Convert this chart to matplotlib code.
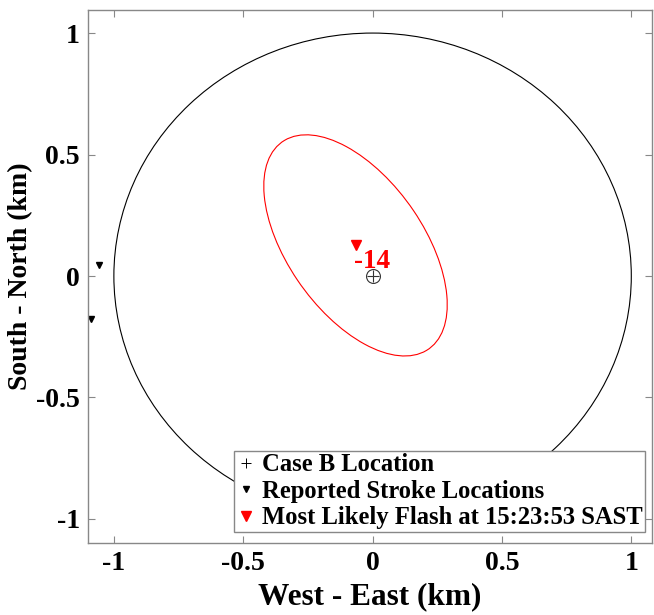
import matplotlib
matplotlib.use("Agg")
import matplotlib.pyplot as plt
from matplotlib.patches import Ellipse, Circle
from matplotlib.lines import Line2D

# ---- data ----
case_x = [0.0]
case_y = [0.0]
stroke_x = [-1.058, -1.089]
stroke_y = [0.045, -0.177]
flash_x = [-0.066]
flash_y = [0.126]
flash_labels = ["-14"]
range_radius = 1.0
ellipse_semi_major = 0.512
ellipse_semi_minor = 0.266
ellipse_angle_deg = 122.4
xticks = [-1, -0.5, 0, 0.5, 1]
xticklabels = ["-1", "-0.5", "0", "0.5", "1"]
yticks = [-1, -0.5, 0, 0.5, 1]
yticklabels = ["-1", "-0.5", "0", "0.5", "1"]
legend_labels = ["Case B Location", "Reported Stroke Locations",
                 "Most Likely Flash at 15:23:53 SAST"]

plt.rcParams['font.family'] = ['Liberation Serif', 'DejaVu Serif']
plt.rcParams['font.weight'] = 'bold'
plt.rcParams['axes.unicode_minus'] = False

fig = plt.figure(figsize=(6.54, 6.15), dpi=100)
ax = fig.add_axes([88/654, 1-543/615, (652-88)/654, (543-9.5)/615])

ax.add_patch(Circle((0, 0), range_radius, fill=False, edgecolor='black', lw=0.8))
ax.add_patch(Ellipse((flash_x[0], flash_y[0]), 2*ellipse_semi_major, 2*ellipse_semi_minor,
                     angle=ellipse_angle_deg, fill=False, edgecolor='red', lw=0.8))

ax.plot(stroke_x, stroke_y, linestyle='none', marker='v', color='black', markersize=4,
        clip_on=False)
ax.plot(flash_x, flash_y, linestyle='none', marker='v', color='red', markersize=7)
ax.plot(case_x, case_y, linestyle='none', marker='o', markerfacecolor='none',
        markeredgecolor='#333333', markersize=10, markeredgewidth=0.8)
ax.plot(case_x, case_y, linestyle='none', marker='+', color='#333333', markersize=9,
        markeredgewidth=0.8)

for x, y, s in zip(flash_x, flash_y, flash_labels):
    ax.text(x - 0.006, y - 0.093, s, color='red', fontsize=19.5, fontweight='bold',
            ha='left', va='baseline')

ax.set_xlim(-1.10, 1.08)
ax.set_ylim(-1.099, 1.097)
ax.set_xticks(xticks)
ax.set_xticklabels(xticklabels)
ax.set_yticks(yticks)
ax.set_yticklabels(yticklabels)
ax.tick_params(direction='in', length=5, width=0.8, color='#888888',
               top=True, right=True, labelsize=20, pad=6)
for sp in ax.spines.values():
    sp.set_color('#888888')
    sp.set_linewidth(1.0)

ax.set_xlabel("West - East (km)", fontsize=22.5, fontweight='bold', labelpad=4)
ax.set_ylabel("South - North (km)", fontsize=20, fontweight='bold', labelpad=2)

handles = [
    Line2D([], [], linestyle='none', marker='+', color='black', markersize=7, markeredgewidth=0.7),
    Line2D([], [], linestyle='none', marker='v', color='black', markersize=4),
    Line2D([], [], linestyle='none', marker='v', color='red', markersize=7),
]
leg = ax.legend(handles, legend_labels, loc='lower right', bbox_to_anchor=(0.988, 0.02),
                borderaxespad=0, fancybox=False, framealpha=1, edgecolor='#888888',
                prop={'size': 17.7, 'weight': 'bold'}, handlelength=0.7,
                handletextpad=0.3, labelspacing=0.14, borderpad=0.12)
leg.get_frame().set_linewidth(1.0)

fig.savefig("out.png", dpi=100)
